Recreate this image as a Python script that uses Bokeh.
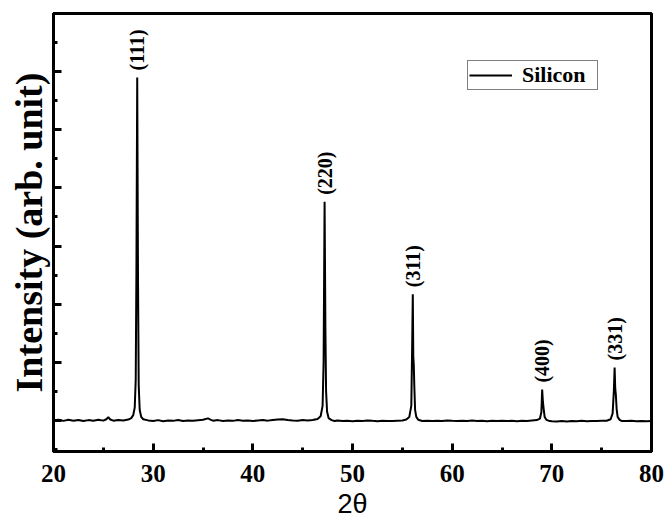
from bokeh.plotting import figure
from bokeh.models import Range1d, FixedTicker, Legend, LegendItem, ColumnDataSource, Title, CustomJSTickFormatter
from bokeh.core.properties import value
from bokeh.embed import file_html
from bokeh.resources import INLINE
import math

# XRD trace (2theta, intensity in arbitrary units)
two_theta = [20.0, 20.5, 21.0, 21.5, 22.0, 22.5, 23.0, 23.5, 24.0, 24.5, 25.0, 25.3, 25.5, 25.7,
             26.0, 26.5, 27.0, 27.5, 27.8, 28.0, 28.15, 28.25, 28.32, 28.4, 28.48, 28.55, 28.65,
             28.8, 29.0, 29.5, 30.0, 30.5, 31.0, 31.5, 32.0, 32.5, 33.0, 33.5, 34.0, 34.5, 35.0,
             35.5, 35.8, 36.0, 36.5, 37.0, 37.5, 38.0, 38.5, 39.0, 39.5, 40.0, 40.5, 41.0, 41.5,
             42.0, 42.5, 43.0, 43.5, 44.0, 44.5, 45.0, 45.5, 46.0, 46.5, 46.8, 47.0, 47.1, 47.2,
             47.28, 47.35, 47.45, 47.6, 47.9, 48.2, 48.5, 49.0, 49.5, 50.0, 50.5, 51.0, 51.5,
             52.0, 52.5, 53.0, 53.5, 54.0, 54.5, 55.0, 55.4, 55.7, 55.9, 55.98, 56.05, 56.1,
             56.15, 56.2, 56.28, 56.4, 56.6, 57.0, 57.5, 58.0, 58.5, 59.0, 59.5, 60.0, 60.5,
             61.0, 61.5, 62.0, 62.5, 63.0, 63.5, 64.0, 64.5, 65.0, 65.5, 66.0, 66.5, 67.0, 67.5,
             68.0, 68.5, 68.8, 68.95, 69.03, 69.1, 69.18, 69.28, 69.45, 69.8, 70.0, 70.5, 71.0,
             71.5, 72.0, 72.5, 73.0, 73.5, 74.0, 74.5, 75.0, 75.5, 75.9, 76.1, 76.22, 76.3,
             76.36, 76.42, 76.5, 76.6, 76.8, 77.0, 77.5, 78.0, 78.5, 79.0, 79.5, 80.0]
intensity = [0, 12, -8, 10, -5, 8, -12, 5, -6, 10, -4, 20, 55, 15,
             -5, 8, 0, 15, 40, 90, 220, 700, 2600, 5900, 2400, 600, 180,
             60, 20, 0, -10, 5, -15, 0, -8, 6, -12, 0, -5, 4, 10,
             35, 10, -4, 5, -10, 0, -8, 5, -6, 0, -10, -2, 5, -4,
             8, 15, 20, 8, 0, -5, 5, 0, 8, 25, 70, 250, 1000, 3760,
             1600, 500, 150, 40, 5, -10, 0, -12, -5, -15, -5, -10, 0,
             -8, -14, -5, -10, -12, -5, 0, 15, 60, 250, 1200, 2170, 1100,
             950, 600, 180, 60, 10, -10, -5, -12, -4, -10, 0, -8, -12,
             -5, -10, -3, -12, -8, -15, -5, -10, -4, -12, -8, -14, -6, -10,
             -2, 5, 30, 140, 530, 330, 200, 60, 10, -12, -15, -20, -12,
             -18, -10, -15, -8, -14, -10, -12, -6, -5, 20, 120, 500, 910,
             550, 450, 200, 60, 10, -10, -12, -8, -14, -10, -15, -12]

# Peak annotations
peak_pos = [28.4, 47.2, 56.05, 69.03, 76.3]
peak_height = [5900, 3760, 2170, 530, 910]
peak_labels = ["(111)", "(220)", "(311)", "(400)", "(331)"]

x_ticks = [20, 30, 40, 50, 60, 70, 80]
x_minor = [25, 35, 45, 55, 65, 75]
y_ticks = [0, 1000, 2000, 3000, 4000, 5000, 6000, 7000]
y_minor = [-500, 500, 1500, 2500, 3500, 4500, 5500, 6500]

serif = "Liberation Serif"

p = figure(width=665, height=521, output_backend="svg", toolbar_location=None,
           x_range=Range1d(20, 80), y_range=Range1d(-535, 7000),
           min_border_left=53, min_border_right=14, min_border_top=13, min_border_bottom=0)

p.xgrid.visible = False
p.ygrid.visible = False
p.outline_line_color = "black"
p.outline_line_width = 3
p.background_fill_color = "white"
p.border_fill_color = "white"

line = p.line(two_theta, intensity, line_color="black", line_width=2)

src = ColumnDataSource(dict(x=peak_pos, y=peak_height, t=peak_labels))
p.text(x="x", y="y", text="t", source=src, angle=math.pi / 2, y_offset=-7,
       text_align="left", text_baseline="middle",
       text_font=value(serif), text_font_style="bold", text_font_size="20px",
       text_color="black")

xa = p.xaxis[0]
xa.ticker = FixedTicker(ticks=x_ticks, minor_ticks=x_minor)
xa.axis_line_width = 3
xa.axis_line_color = "black"
xa.major_tick_in = 8
xa.major_tick_out = 0
xa.minor_tick_in = 4
xa.minor_tick_out = 0
xa.major_tick_line_width = 3
xa.minor_tick_line_width = 3
xa.major_tick_line_color = "black"
xa.minor_tick_line_color = "black"
xa.major_label_text_font = serif
xa.major_label_text_font_style = "bold"
xa.major_label_text_font_size = "25px"
xa.major_label_text_color = "black"
xa.major_label_standoff = 13
xa.axis_label = "2θ"
xa.axis_label_text_font = "Liberation Sans"
xa.axis_label_text_font_style = "normal"
xa.axis_label_text_font_size = "27px"
xa.axis_label_text_color = "black"
xa.axis_label_standoff = 4

ya = p.yaxis[0]
ya.ticker = FixedTicker(ticks=y_ticks, minor_ticks=y_minor)
ya.formatter = CustomJSTickFormatter(code="return '';")
ya.axis_line_width = 3
ya.axis_line_color = "black"
ya.major_tick_in = 8
ya.major_tick_out = 0
ya.minor_tick_in = 4
ya.minor_tick_out = 0
ya.major_tick_line_width = 3
ya.minor_tick_line_width = 3
ya.major_tick_line_color = "black"
ya.minor_tick_line_color = "black"
ya.major_label_standoff = 0

ytitle = Title(text="Intensity (arb. unit)", align="center", offset=21, standoff=8,
               text_font=serif, text_font_style="bold", text_font_size="38px",
               text_color="black")
p.add_layout(ytitle, "left")

legend = Legend(items=[LegendItem(label="Silicon", renderers=[line])],
                location=(414, 361), border_line_color="black", border_line_width=1,
                padding=1, margin=0, label_text_font=serif, label_text_font_style="bold",
                label_text_font_size="22px", label_text_color="black", glyph_width=43,
                label_standoff=10, label_width=74, label_height=20, glyph_height=20,
                spacing=0, background_fill_alpha=1)
p.add_layout(legend, "center")

open("out.html", "w").write(file_html(p, INLINE))
